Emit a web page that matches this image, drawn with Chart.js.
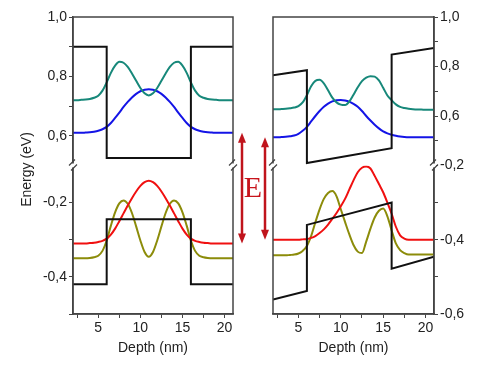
<!DOCTYPE html>
<html>
<head>
<meta charset="utf-8">
<script src="https://cdn.jsdelivr.net/npm/chart.js@4.4.0/dist/chart.umd.min.js"></script>
<style>
  body { margin: 0; background: #fff; }
  #wrap { position: relative; width: 480px; height: 369px; }
  #wrap canvas { position: absolute; left: 0; top: 0; }
</style>
</head>
<body>
<div id="wrap">
  <canvas id="leftChart" width="480" height="369"></canvas>
  <canvas id="rightChart" width="480" height="369"></canvas>
</div>
<script>
// depth samples (nm) shared by the wavefunction curves
const depth = [2, 2.5, 3, 3.5, 4, 4.5, 5, 5.5, 6, 6.5, 7, 7.5, 8, 8.5, 9, 9.5, 10, 10.5, 11, 11.5,
  12, 12.5, 13, 13.5, 14, 14.5, 15, 15.5, 16, 16.5, 17, 17.5, 18, 18.5, 19, 19.5, 20, 20.5, 21];

// band edges (step profile)
const edgeDepth = [2, 6, 6, 16, 16, 21];
const cbFlat = [0.9, 0.9, 0.525, 0.525, 0.9, 0.9];
const vbFlat = [-0.42, -0.42, -0.245, -0.245, -0.42, -0.42];
const cbTilt = [0.765, 0.785, 0.41, 0.47, 0.848, 0.875];
const vbTilt = [-0.561, -0.538, -0.36, -0.3, -0.478, -0.446];

// left panel (no field)
const e2Flat = [0.72, 0.72, 0.721, 0.722, 0.724, 0.728, 0.735, 0.752, 0.78, 0.812, 0.836, 0.849, 0.846, 0.832, 0.81, 0.785, 0.761, 0.743, 0.736, 0.743,
  0.761, 0.785, 0.81, 0.832, 0.846, 0.849, 0.836, 0.812, 0.78, 0.752, 0.735, 0.728, 0.724, 0.722, 0.721, 0.72, 0.72, 0.72, 0.72];
const e1Flat = [0.61, 0.61, 0.61, 0.611, 0.612, 0.614, 0.617, 0.622, 0.63, 0.643, 0.66, 0.678, 0.697, 0.714, 0.729, 0.741, 0.75, 0.755, 0.757, 0.755,
  0.75, 0.741, 0.729, 0.714, 0.697, 0.678, 0.66, 0.643, 0.63, 0.622, 0.617, 0.614, 0.612, 0.611, 0.61, 0.61, 0.61, 0.61, 0.61];
const h1Flat = [-0.31, -0.31, -0.31, -0.31, -0.309, -0.308, -0.306, -0.303, -0.297, -0.286, -0.27, -0.25, -0.229, -0.208, -0.188, -0.17, -0.155, -0.145, -0.141, -0.145,
  -0.155, -0.17, -0.188, -0.208, -0.229, -0.25, -0.27, -0.286, -0.297, -0.303, -0.306, -0.308, -0.309, -0.31, -0.31, -0.31, -0.31, -0.31, -0.31];
const h2Flat = [-0.35, -0.35, -0.35, -0.35, -0.349, -0.347, -0.343, -0.33, -0.302, -0.262, -0.226, -0.202, -0.194, -0.203, -0.228, -0.264, -0.302, -0.333, -0.346, -0.333,
  -0.302, -0.264, -0.228, -0.203, -0.194, -0.202, -0.226, -0.262, -0.302, -0.33, -0.343, -0.347, -0.349, -0.35, -0.35, -0.35, -0.35, -0.35, -0.35];

// right panel (with field)
const e2Tilt = [0.627, 0.627, 0.628, 0.629, 0.631, 0.634, 0.64, 0.655, 0.684, 0.72, 0.742, 0.746, 0.732, 0.704, 0.674, 0.655, 0.646, 0.644, 0.658, 0.686,
  0.716, 0.741, 0.755, 0.761, 0.759, 0.744, 0.714, 0.683, 0.664, 0.647, 0.637, 0.632, 0.629, 0.627, 0.626, 0.626, 0.625, 0.625, 0.625];
const e1Tilt = [0.514, 0.514, 0.515, 0.516, 0.518, 0.521, 0.528, 0.54, 0.556, 0.578, 0.6, 0.62, 0.637, 0.65, 0.659, 0.664, 0.665, 0.663, 0.658, 0.649,
  0.637, 0.62, 0.6, 0.582, 0.565, 0.55, 0.538, 0.53, 0.524, 0.52, 0.517, 0.515, 0.514, 0.514, 0.514, 0.514, 0.514, 0.514, 0.514];
const h1Tilt = [-0.4, -0.4, -0.4, -0.4, -0.4, -0.4, -0.4, -0.399, -0.398, -0.395, -0.39, -0.382, -0.372, -0.359, -0.344, -0.328, -0.31, -0.29, -0.265, -0.24,
  -0.218, -0.206, -0.203, -0.208, -0.228, -0.25, -0.272, -0.3, -0.33, -0.365, -0.388, -0.397, -0.4, -0.4, -0.4, -0.4, -0.4, -0.4, -0.4];
const h2Tilt = [-0.442, -0.442, -0.442, -0.442, -0.441, -0.44, -0.437, -0.43, -0.417, -0.39, -0.353, -0.318, -0.29, -0.274, -0.269, -0.283, -0.318, -0.352, -0.385, -0.414,
  -0.432, -0.436, -0.405, -0.37, -0.34, -0.322, -0.316, -0.337, -0.375, -0.41, -0.428, -0.436, -0.44, -0.44, -0.44, -0.44, -0.44, -0.44, -0.44];

// transition arrows: from electron ground level to hole ground level
const arrowFlat = [0.61, -0.31];
const arrowTilt = [0.514, -0.4];

const FONT = "'Liberation Sans', Arial, sans-serif";
const AXIS = '#444';

function pts(xs, ys) {
  return xs.map((x, i) => ({ x: x, y: ys[i] }));
}

function curve(ys, color, axis) {
  return { data: pts(depth, ys), borderColor: color, borderWidth: 2, pointRadius: 0,
    cubicInterpolationMode: 'monotone', yAxisID: axis };
}

function edge(ys, axis) {
  return { data: pts(edgeDepth, ys), borderColor: '#111', borderWidth: 2, pointRadius: 0,
    tension: 0, yAxisID: axis };
}

function energyLabel(v) {
  const t = Math.round(v * 10);
  return t % 2 === 0 ? (t / 10).toFixed(1).replace('.', ',') : '';
}

function yScale(pos, min, max, weight, drop, w) {
  return {
    type: 'linear', position: pos, stack: 'energy', stackWeight: 1, weight: weight,
    min: min, max: max,
    ticks: { stepSize: 0.1, autoSkip: false, callback: energyLabel, color: '#222', padding: 2,
      font: { family: FONT, size: 14 } },
    grid: { drawOnChartArea: false, tickLength: 4, color: AXIS },
    border: { color: AXIS, width: 1.5 },
    afterBuildTicks: s => {
      if (drop !== null) s.ticks = s.ticks.filter(t => Math.abs(t.value - drop) > 1e-6);
    },
    afterFit: s => { s.width = w; }
  };
}

function xScale() {
  return {
    type: 'linear', min: 2, max: 21,
    ticks: { stepSize: 2.5, autoSkip: false, includeBounds: false, color: '#222', padding: 2,
      font: { family: FONT, size: 14 },
      callback: v => (v % 5 === 0 ? String(v) : '') },
    grid: { drawOnChartArea: false, tickLength: 4, color: AXIS },
    border: { color: AXIS, width: 1.5 },
    title: { display: true, text: 'Depth (nm)', color: '#222', font: { family: FONT, size: 14 } },
    afterFit: s => { s.height = 47; }
  };
}

function drawArrow(ctx, x, y1, y2) {
  ctx.beginPath();
  ctx.moveTo(x, y1 + 6);
  ctx.lineTo(x, y2 - 6);
  ctx.stroke();
  ctx.beginPath();
  ctx.moveTo(x, y1); ctx.lineTo(x - 4, y1 + 10); ctx.lineTo(x + 4, y1 + 10);
  ctx.closePath(); ctx.fill();
  ctx.beginPath();
  ctx.moveTo(x, y2); ctx.lineTo(x - 4, y2 - 10); ctx.lineTo(x + 4, y2 - 10);
  ctx.closePath(); ctx.fill();
}

const framePlugin = {
  id: 'frame',
  afterDraw(chart, args, opts) {
    const { ctx, chartArea: a } = chart;
    const yb = (a.top + a.bottom) / 2;
    ctx.save();
    ctx.strokeStyle = AXIS;
    ctx.lineWidth = 1.5;
    ctx.strokeRect(a.left, a.top, a.right - a.left, a.bottom - a.top);
    [a.left, a.right].forEach(x => {
      ctx.fillStyle = '#fff';
      ctx.fillRect(x - 2, yb - 2, 4, 4);
      ctx.lineWidth = 1.2;
      ctx.beginPath();
      ctx.moveTo(x - 4, yb); ctx.lineTo(x + 2, yb - 6);
      ctx.moveTo(x - 2, yb + 5); ctx.lineTo(x + 4, yb - 1);
      ctx.stroke();
    });

    // transition arrow just outside the right/left edge
    const ys = opts.arrow;
    ctx.strokeStyle = '#c0141c';
    ctx.fillStyle = '#c0141c';
    ctx.lineWidth = 2.5;
    const ax = opts.side === 'left' ? a.right + 9 : a.left - 8;
    drawArrow(ctx, ax, chart.scales.yTop.getPixelForValue(ys[0]), chart.scales.yBot.getPixelForValue(ys[1]));

    if (opts.side === 'left') {
      ctx.fillStyle = '#222';
      ctx.font = '14px ' + FONT;
      ctx.textAlign = 'center';
      ctx.textBaseline = 'middle';
      ctx.translate(27, (a.top + a.bottom) / 2 + 4);
      ctx.rotate(-Math.PI / 2);
      ctx.fillText('Energy (eV)', 0, 0);
    } else {
      ctx.fillStyle = '#c8141c';
      ctx.font = "30px 'Liberation Serif', 'Times New Roman', serif";
      ctx.textAlign = 'center';
      ctx.textBaseline = 'middle';
      ctx.fillText('E', a.left - 20, yb + 24);
    }
    ctx.restore();
  }
};

function baseOptions(pad, scales, side, arrow) {
  return {
    responsive: false,
    animation: false,
    devicePixelRatio: 1,
    layout: { padding: pad },
    plugins: { legend: { display: false }, tooltip: { enabled: false },
      frame: { side: side, arrow: arrow } },
    scales: scales
  };
}

new Chart(document.getElementById('leftChart'), {
  type: 'line',
  data: { datasets: [
    edge(cbFlat, 'yTop'),
    curve(e2Flat, '#17887a', 'yTop'),
    curve(e1Flat, '#1414e6', 'yTop'),
    edge(vbFlat, 'yBot'),
    curve(h1Flat, '#f01010', 'yBot'),
    curve(h2Flat, '#8c8c0a', 'yBot')
  ] },
  options: baseOptions({ left: 13, right: 247, top: 17, bottom: 8 }, {
    x: xScale(),
    yTop: yScale('left', 0.5, 1.0, 1, 0.5, 60),
    yBot: yScale('left', -0.5, -0.1, 0, -0.1, 60)
  }, 'left', arrowFlat),
  plugins: [framePlugin]
});

new Chart(document.getElementById('rightChart'), {
  type: 'line',
  data: { datasets: [
    edge(cbTilt, 'yTop'),
    curve(e2Tilt, '#17887a', 'yTop'),
    curve(e1Tilt, '#1414e6', 'yTop'),
    edge(vbTilt, 'yBot'),
    curve(h1Tilt, '#f01010', 'yBot'),
    curve(h2Tilt, '#8c8c0a', 'yBot')
  ] },
  options: baseOptions({ left: 273, right: 1, top: 17, bottom: 8 }, {
    x: xScale(),
    yTop: yScale('right', 0.4, 1.0, 0, 0.4, 45),
    yBot: yScale('right', -0.6, -0.2, 1, null, 45)
  }, 'right', arrowTilt),
  plugins: [framePlugin]
});
</script>
</body>
</html>
